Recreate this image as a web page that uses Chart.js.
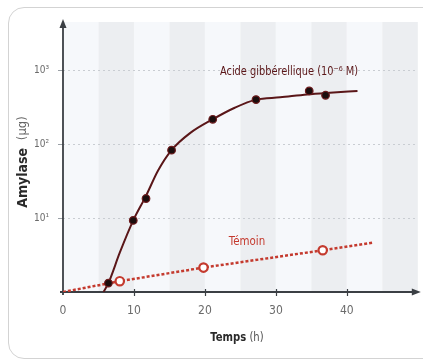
<!DOCTYPE html>
<html>
<head>
<meta charset="utf-8">
<script src="https://cdn.jsdelivr.net/npm/chart.js@4/dist/chart.umd.min.js"></script>
<style>
  html, body { margin:0; padding:0; background:#fff; }
  #wrap { position:relative; width:423px; height:362px; overflow:hidden; }
  #frame { position:absolute; left:8px; top:7px; width:440px; height:350px; border:1.5px solid #d3d3d3; border-radius:16px; }
  canvas { position:absolute; left:0; top:0; }
</style>
</head>
<body>
<div id="wrap">
  <div id="frame"></div>
  <canvas id="c" width="423" height="362"></canvas>
</div>
<script>
// ---- data ----
const xTicks = [0, 10, 20, 30, 40];
const yTicks = [10, 100, 1000];
const yTickLabels = ['10¹', '10²', '10³'];

const acideTemps   = [6.4, 9.9, 11.7, 15.3, 21.1, 27.2, 34.7, 37.0];
const acideAmylase = [1.32, 9.3, 18.4, 83, 217, 401, 525, 459];

const courbeTemps   = [5.7, 6.4, 8.0, 9.9, 11.7, 13.4, 15.3, 17.9, 21.1, 24.2, 27.2, 30.6, 34.4, 37.6, 41.5];
const courbeAmylase = [1.0, 1.32, 3.4, 9.3, 20, 44, 83, 141, 217, 311, 401, 430, 470, 496, 525];

const temoinTemps   = [0, 8.0, 19.8, 36.6, 43.8];
const temoinAmylase = [1.0, 1.40, 2.14, 3.67, 4.66];
const temoinMarkers = [false, true, true, true, false];

const labelAcide  = 'Acide gibbérellique (10⁻⁶ M)';
const labelTemoin = 'Témoin';
const xTitleBold = 'Temps', xTitleRest = ' (h)';
const yTitleBold = 'Amylase', yTitleRest = ' (µg)';

const FONT = "'Liberation Sans Narrow', 'DejaVu Sans Condensed', 'Roboto', sans-serif";
const MAROON = '#5a1618';
const RED = '#c43a2e';

const pts = (xs, ys) => xs.map((x, i) => ({x: x, y: ys[i]}));

function squeezedText(ctx, text, cx, cy, sx) {
  ctx.save();
  ctx.translate(cx, cy);
  ctx.scale(sx, 1);
  ctx.fillText(text, 0, 0);
  ctx.restore();
}

const decor = {
  id: 'decor',
  beforeDatasetsDraw(chart) {
    const {ctx, chartArea: a, scales: {x, y}} = chart;
    ctx.save();
    for (let t = 0; t < 50; t += 5) {
      const l = x.getPixelForValue(t), r = x.getPixelForValue(t + 5);
      ctx.fillStyle = (t / 5) % 2 === 1 ? '#eceef1' : '#f6f8fb';
      ctx.fillRect(l, a.top, r - l, a.bottom - a.top);
    }
    ctx.strokeStyle = '#c9cdd2';
    ctx.lineWidth = 1;
    ctx.setLineDash([2, 3]);
    yTicks.forEach(v => {
      const py = Math.round(y.getPixelForValue(v)) + 0.5;
      ctx.beginPath(); ctx.moveTo(a.left, py); ctx.lineTo(a.right, py); ctx.stroke();
    });
    ctx.setLineDash([]);
    ctx.strokeStyle = '#9aa0a6';
    yTicks.forEach(v => {
      const py = Math.round(y.getPixelForValue(v)) + 0.5;
      ctx.beginPath(); ctx.moveTo(a.left - 5, py); ctx.lineTo(a.left, py); ctx.stroke();
    });
    ctx.strokeStyle = '#3b3f44';
    ctx.fillStyle = '#3b3f44';
    ctx.lineWidth = 1.8;
    ctx.beginPath(); ctx.moveTo(a.left, a.bottom + 3); ctx.lineTo(a.left, a.top + 2); ctx.stroke();
    ctx.beginPath(); ctx.moveTo(a.left - 3, a.bottom); ctx.lineTo(a.right, a.bottom); ctx.stroke();
    ctx.beginPath(); ctx.moveTo(a.left, a.top - 3); ctx.lineTo(a.left - 3.5, a.top + 6); ctx.lineTo(a.left + 3.5, a.top + 6); ctx.closePath(); ctx.fill();
    ctx.beginPath(); ctx.moveTo(a.right + 3, a.bottom); ctx.lineTo(a.right - 6, a.bottom - 3.5); ctx.lineTo(a.right - 6, a.bottom + 3.5); ctx.closePath(); ctx.fill();
    ctx.lineWidth = 1.2;
    xTicks.slice(1).forEach(v => {
      const px = Math.round(x.getPixelForValue(v)) + 0.5;
      ctx.beginPath(); ctx.moveTo(px, a.bottom - 3); ctx.lineTo(px, a.bottom + 4); ctx.stroke();
    });
    ctx.restore();
  },
  afterDraw(chart) {
    const {ctx} = chart;
    ctx.save();
    ctx.textAlign = 'center'; ctx.textBaseline = 'middle';
    ctx.font = '13px ' + FONT;
    ctx.fillStyle = MAROON;
    squeezedText(ctx, labelAcide, 289, 72, 0.84);
    ctx.fillStyle = RED;
    squeezedText(ctx, labelTemoin, 247, 242, 0.88);

    // x title
    ctx.textAlign = 'left';
    ctx.font = 'bold 13px ' + FONT;
    const wb = ctx.measureText(xTitleBold).width;
    ctx.font = '13px ' + FONT;
    const wr = ctx.measureText(xTitleRest).width;
    const k = 0.86;
    ctx.save();
    ctx.translate(237 - (wb + wr) * k / 2, 338);
    ctx.scale(k, 1);
    ctx.fillStyle = '#2a2a2a';
    ctx.font = 'bold 13px ' + FONT; ctx.fillText(xTitleBold, 0, 0);
    ctx.fillStyle = '#555';
    ctx.font = '13px ' + FONT; ctx.fillText(xTitleRest, wb, 0);
    ctx.restore();

    // y title (rotated)
    ctx.translate(23, 162);
    ctx.rotate(-Math.PI / 2);
    ctx.font = 'bold 14px ' + FONT;
    const yb = ctx.measureText(yTitleBold).width;
    ctx.font = '13px ' + FONT;
    const yr = ctx.measureText(yTitleRest).width;
    const sy = -(yb + yr + 4) / 2;
    ctx.fillStyle = '#2a2a2a';
    ctx.font = 'bold 14px ' + FONT; ctx.fillText(yTitleBold, sy, 0);
    ctx.fillStyle = '#666';
    ctx.font = '13px ' + FONT; ctx.fillText(yTitleRest, sy + yb + 4, 0);
    ctx.restore();
  }
};

new Chart(document.getElementById('c'), {
  type: 'scatter',
  data: {
    datasets: [
      {
        label: 'courbe',
        data: pts(courbeTemps, courbeAmylase),
        showLine: true,
        borderColor: MAROON,
        borderWidth: 2,
        pointRadius: 0,
        cubicInterpolationMode: 'monotone',
        order: 3
      },
      {
        label: labelTemoin,
        data: pts(temoinTemps, temoinAmylase),
        showLine: true,
        borderColor: RED,
        borderWidth: 2.5,
        borderDash: [3, 2],
        tension: 0,
        pointRadius: temoinMarkers.map(m => m ? 4.2 : 0),
        pointBackgroundColor: '#ffffff',
        pointBorderColor: RED,
        pointBorderWidth: 2.2,
        order: 2
      },
      {
        label: labelAcide,
        data: pts(acideTemps, acideAmylase),
        showLine: false,
        pointRadius: 3.8,
        pointBackgroundColor: '#1b0d0d',
        pointBorderColor: '#6e1c1e',
        pointBorderWidth: 1.2,
        order: 1
      }
    ]
  },
  options: {
    responsive: false,
    animation: false,
    layout: { padding: { left: 0, top: 22, right: 5, bottom: 0 } },
    plugins: { legend: { display: false }, tooltip: { enabled: false } },
    scales: {
      x: {
        type: 'linear', min: 0, max: 50,
        afterFit(s) { s.height = 70; },
        afterBuildTicks(s) { s.ticks = xTicks.map(v => ({value: v})); },
        grid: { display: false, drawTicks: false },
        border: { display: false },
        ticks: {
          padding: 12,
          color: '#6b6b6b',
          font: { family: FONT, size: 12 },
          callback: v => String(v)
        }
      },
      y: {
        type: 'logarithmic', min: 1, max: 4500,
        afterFit(s) { s.width = 63; },
        afterBuildTicks(s) { s.ticks = yTicks.map(v => ({value: v})); },
        grid: { display: false, drawTicks: false },
        border: { display: false },
        ticks: {
          padding: 14,
          color: '#6b6b6b',
          font: { family: FONT, size: 10 },
          callback: v => yTickLabels[yTicks.indexOf(v)] ?? ''
        }
      }
    }
  },
  plugins: [decor]
});
</script>
</body>
</html>
